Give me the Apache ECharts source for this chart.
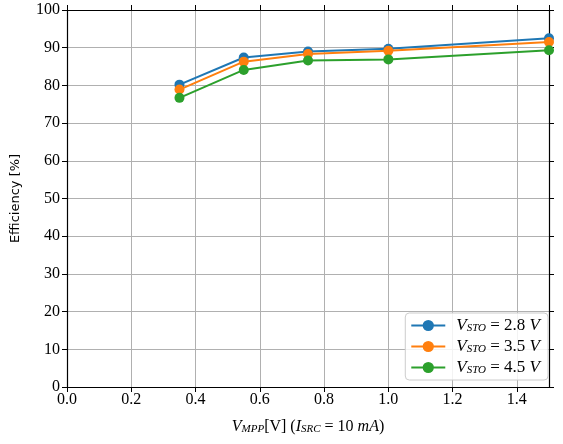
<!DOCTYPE html>
<html><head><meta charset="utf-8">
<script src="https://cdn.jsdelivr.net/npm/echarts@6/dist/echarts.min.js"></script>
<style>html,body{margin:0;padding:0;background:#fff}#c{width:563px;height:444px}</style>
</head><body><div id="c"></div>
<script>
const vmpp = [0.35, 0.55, 0.75, 1.0, 1.5];
const eff28 = [80.2, 87.4, 89.0, 89.7, 92.5];
const eff35 = [78.9, 86.3, 88.3, 89.2, 91.5];
const eff45 = [76.7, 84.1, 86.6, 86.9, 89.3];
const seriesNames = ['2.8', '3.5', '4.5'];
const colors = ['#1f77b4', '#ff7f0e', '#2ca02c'];

const serif = 'Liberation Serif';
const chart = echarts.init(document.getElementById('c'), null, {renderer: 'canvas'});
const pairs = a => vmpp.map((x, i) => [x, a[i]]);
const mk = (name, data, color) => ({
  name: name, type: 'line', data: pairs(data), color: color,
  symbol: 'circle', symbolSize: 10, lineStyle: {width: 2, color: color},
  itemStyle: {color: color}, clip: true, animation: false
});
const gridLine = {show: true, lineStyle: {color: '#b0b0b0', width: 1}};
const axLine = {show: true, onZero: false, lineStyle: {color: '#000', width: 1.2}};
const tick = {show: true, inside: false, length: 5, lineStyle: {color: '#000', width: 1}};
chart.setOption({
  animation: false,
  grid: {left: 67, right: 14, top: 10, bottom: 57},
  xAxis: [{
    type: 'value', min: 0, max: 1.5, interval: 0.2, position: 'bottom',
    axisLine: axLine, axisTick: tick, splitLine: gridLine,
    axisLabel: {color: '#000', fontFamily: serif, fontSize: 16, margin: 5,
      formatter: v => v.toFixed(1), showMaxLabel: false},
    name: '{i|V}{s|MPP}{n|[V] (}{i|I}{s|SRC}{n| = 10 }{i|mA}{n|)}',
    nameLocation: 'middle', nameGap: 31,
    nameTextStyle: {rich: {
      i: {fontFamily: serif, fontStyle: 'italic', fontSize: 16, color: '#000'},
      s: {fontFamily: serif, fontStyle: 'italic', fontSize: 11, color: '#000', verticalAlign: 'bottom', padding: [6, 0, 0, 0]},
      n: {fontFamily: serif, fontSize: 16, color: '#000'}
    }}
  }, {
    type: 'value', min: 0, max: 1.5, interval: 0.2, position: 'top',
    axisLine: axLine, axisTick: tick, splitLine: {show: false}, axisLabel: {show: false}
  }],
  yAxis: [{
    type: 'value', min: 0, max: 100, interval: 10, position: 'left',
    axisLine: axLine, axisTick: tick, splitLine: gridLine,
    axisLabel: {color: '#000', fontFamily: serif, fontSize: 16, margin: 7},
    name: 'Efficiency [%]', nameLocation: 'middle', nameGap: 45, nameRotate: 90,
    nameTextStyle: {fontFamily: 'DejaVu Sans', fontSize: 13, color: '#000'}
  }, {
    type: 'value', min: 0, max: 100, interval: 10, position: 'right',
    axisLine: axLine, axisTick: tick, splitLine: {show: false}, axisLabel: {show: false}
  }],
  legend: {
    right: 15, bottom: 64, orient: 'vertical',
    backgroundColor: 'rgba(255,255,255,0.85)', borderColor: '#cccccc', borderWidth: 1, borderRadius: 4,
    padding: [4, 8, 4, 5], itemGap: 4, itemWidth: 34, itemHeight: 14,
    formatter: n => '{i|V}{s|STO}{n| = ' + n + ' }{i|V}',
    textStyle: {padding: [0, 0, 0, 6], rich: {
      i: {fontFamily: serif, fontStyle: 'italic', fontSize: 17, color: '#000'},
      s: {fontFamily: serif, fontStyle: 'italic', fontSize: 11, color: '#000', verticalAlign: 'bottom', padding: [6, 0, 0, 0]},
      n: {fontFamily: serif, fontSize: 17, color: '#000'}
    }}
  },
  series: [mk(seriesNames[0], eff28, colors[0]), mk(seriesNames[1], eff35, colors[1]), mk(seriesNames[2], eff45, colors[2])]
});
</script></body></html>
